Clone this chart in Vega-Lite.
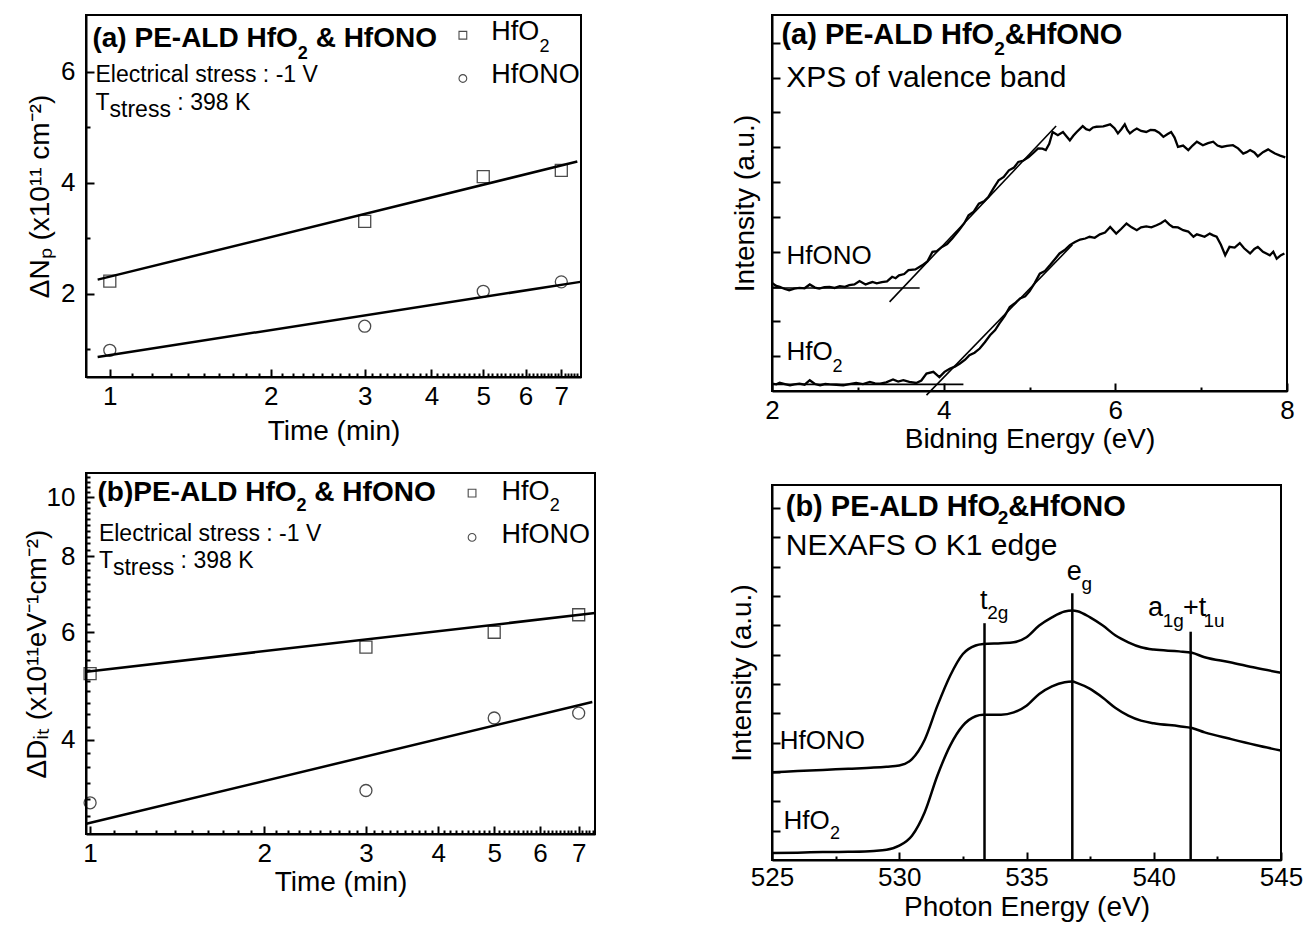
{
  "$schema": "https://vega.github.io/schema/vega-lite/v6.json",
  "background": "white",
  "padding": {"left": 22, "top": 14, "right": 0, "bottom": 0},
  "config": {
    "font": "Liberation Sans",
    "view": {"stroke": "black", "strokeWidth": 2},
    "axis": {"domainColor": "black", "domainWidth": 2, "tickColor": "black", "tickWidth": 2, "labelColor": "black", "titleColor": "black", "labelFont": "Liberation Sans", "titleFont": "Liberation Sans", "labelFontSize": 26, "titleFontSize": 28, "titleFontWeight": "normal", "grid": false, "labelFlush": false, "labelOverlap": false},
    "text": {"font": "Liberation Sans", "color": "black"}
  },
  "hconcat": [
    {
      "vconcat": [
        {
          "width": 495, "height": 362,
          "encoding": {
            "x": {"field": "x", "type": "quantitative", "scale": {"type": "log", "domain": [0.9025, 7.62], "nice": false},
              "axis": {"title": "Time (min)", "values": [1,1.1,1.2,1.3,1.4,1.5,1.6,1.7,1.8,1.9,2,2.1,2.2,2.3,2.4,2.5,2.6,2.7,2.8,2.9,3,3.1,3.2,3.3,3.4,3.5,3.6,3.7,3.8,3.9,4,4.1,4.2,4.3,4.4,4.5,4.6,4.7,4.8,4.9,5,5.1,5.2,5.3,5.4,5.5,5.6,5.7,5.8,5.9,6,6.1,6.2,6.3,6.4,6.5,6.6,6.7,6.8,6.9,7,7.1,7.2,7.3,7.4,7.5],
                "labelExpr": "datum.value == floor(datum.value) ? format(datum.value, 'd') : ''",
                "tickSize": {"condition": {"test": "datum.value == floor(datum.value)", "value": -8}, "value": -4},
                "labelPadding": 14, "titlePadding": 4}},
            "y": {"field": "y", "type": "quantitative", "scale": {"domain": [0.494, 7.024], "nice": false, "zero": false},
              "axis": {"title": "ΔNₚ (x10¹¹ cm⁻²)", "values": [1,2,3,4,5,6],
                "labelExpr": "datum.value % 2 == 0 ? format(datum.value, 'd') : ''",
                "tickSize": {"condition": {"test": "datum.value % 2 == 0", "value": -8}, "value": -4},
                "labelPadding": 19, "titlePadding": 6}}
          },
          "layer": [
            {"data": {"values": [
              {"s": "HfO2", "x": 0.949, "y": 2.25}, {"s": "HfO2", "x": 7.5, "y": 4.38},
              {"s": "HfONO", "x": 0.949, "y": 0.855}, {"s": "HfONO", "x": 7.6, "y": 2.21}]},
             "mark": {"type": "line", "stroke": "black", "strokeWidth": 2.5},
             "encoding": {"detail": {"field": "s"}}},
            {"data": {"values": [
              {"s": "HfO2", "x": 1, "y": 2.223}, {"s": "HfO2", "x": 3, "y": 3.30}, {"s": "HfO2", "x": 5, "y": 4.11}, {"s": "HfO2", "x": 7, "y": 4.22},
              {"s": "HfONO", "x": 1, "y": 0.976}, {"s": "HfONO", "x": 3, "y": 1.41}, {"s": "HfONO", "x": 5, "y": 2.04}, {"s": "HfONO", "x": 7, "y": 2.21}]},
             "mark": {"type": "point", "filled": false, "stroke": "black", "strokeWidth": 1.3, "size": 144},
             "encoding": {"shape": {"field": "s", "type": "nominal", "scale": {"domain": ["HfO2", "HfONO"], "range": ["square", "circle"]}, "legend": null}}},
            {"data": {"values": [{"s": "HfO2", "x": 4.58, "y": 6.659}, {"s": "HfONO", "x": 4.58, "y": 5.879}]},
             "mark": {"type": "point", "filled": false, "stroke": "black", "strokeWidth": 1.1, "size": 60},
             "encoding": {"shape": {"field": "s", "type": "nominal", "scale": {"domain": ["HfO2", "HfONO"], "range": ["square", "circle"]}, "legend": null}}},
            {"data": {"values": [{"x": 0.928, "y": 6.449, "t": "(a) PE-ALD HfO"}, {"x": 2.428, "y": 6.449, "t": "& HfONO"}]},
             "mark": {"type": "text", "align": "left", "baseline": "alphabetic", "fontSize": 28, "fontWeight": "bold"},
             "encoding": {"text": {"field": "t"}}},
            {"data": {"values": [{"x": 2.249, "y": 6.235, "t": "2"}]},
             "mark": {"type": "text", "align": "left", "baseline": "alphabetic", "fontSize": 18, "fontWeight": "bold"},
             "encoding": {"text": {"field": "t"}}},
            {"data": {"values": [{"x": 0.940, "y": 5.818, "t": "Electrical stress : -1 V"}, {"x": 0.940, "y": 5.307, "t": "T"}, {"x": 0.9989, "y": 5.187, "t": "stress"}, {"x": 1.338, "y": 5.307, "t": ": 398 K"}]},
             "mark": {"type": "text", "align": "left", "baseline": "alphabetic", "fontSize": 23},
             "encoding": {"text": {"field": "t"}}},
            {"data": {"values": [{"x": 5.178, "y": 6.569, "t": "HfO"}, {"x": 5.178, "y": 5.789, "t": "HfONO"}]},
             "mark": {"type": "text", "align": "left", "baseline": "alphabetic", "fontSize": 27},
             "encoding": {"text": {"field": "t"}}},
            {"data": {"values": [{"x": 6.375, "y": 6.358, "t": "2"}]},
             "mark": {"type": "text", "align": "left", "baseline": "alphabetic", "fontSize": 18},
             "encoding": {"text": {"field": "t"}}}
          ]
        },
        {
          "width": 509, "height": 361,
          "encoding": {
            "x": {"field": "x", "type": "quantitative", "scale": {"type": "log", "domain": [0.9838, 7.47], "nice": false},
              "axis": {"title": "Time (min)", "values": [1,1.1,1.2,1.3,1.4,1.5,1.6,1.7,1.8,1.9,2,2.1,2.2,2.3,2.4,2.5,2.6,2.7,2.8,2.9,3,3.1,3.2,3.3,3.4,3.5,3.6,3.7,3.8,3.9,4,4.1,4.2,4.3,4.4,4.5,4.6,4.7,4.8,4.9,5,5.1,5.2,5.3,5.4,5.5,5.6,5.7,5.8,5.9,6,6.1,6.2,6.3,6.4,6.5,6.6,6.7,6.8,6.9,7,7.1,7.2,7.3,7.4],
                "labelExpr": "datum.value == floor(datum.value) ? format(datum.value, 'd') : ''",
                "tickSize": {"condition": {"test": "datum.value == floor(datum.value)", "value": -8}, "value": -4},
                "labelPadding": 14, "titlePadding": -2}},
            "y": {"field": "y", "type": "quantitative", "scale": {"type": "log", "domain": [2.8, 10.95], "nice": false},
              "axis": {"title": "ΔDᵢₜ (x10¹¹eV⁻¹cm⁻²)", "values": [3,3.2,3.4,3.6,3.8,4,4.2,4.4,4.6,4.8,5,5.2,5.4,5.6,5.8,6,6.2,6.4,6.6,6.8,7,7.2,7.4,7.6,7.8,8,8.2,8.4,8.6,8.8,9,9.2,9.4,9.6,9.8,10,10.2,10.4,10.6,10.8],
                "labelExpr": "indexof([4,6,8,10], datum.value) >= 0 ? format(datum.value, 'd') : ''",
                "tickSize": {"condition": {"test": "indexof([4,6,8,10], datum.value) >= 0", "value": -8}, "value": -4},
                "labelPadding": 19, "titlePadding": -5}}
          },
          "layer": [
            {"data": {"values": [
              {"s": "HfO2", "x": 0.985, "y": 5.17}, {"s": "HfO2", "x": 7.47, "y": 6.45},
              {"s": "HfONO", "x": 0.985, "y": 2.91}, {"s": "HfONO", "x": 7.39, "y": 4.61}]},
             "mark": {"type": "line", "stroke": "black", "strokeWidth": 2.5},
             "encoding": {"detail": {"field": "s"}}},
            {"data": {"values": [
              {"s": "HfO2", "x": 1, "y": 5.13}, {"s": "HfO2", "x": 3, "y": 5.67}, {"s": "HfO2", "x": 5, "y": 6.0}, {"s": "HfO2", "x": 7, "y": 6.41},
              {"s": "HfONO", "x": 1, "y": 3.15}, {"s": "HfONO", "x": 3, "y": 3.30}, {"s": "HfONO", "x": 5, "y": 4.34}, {"s": "HfONO", "x": 7, "y": 4.42}]},
             "mark": {"type": "point", "filled": false, "stroke": "black", "strokeWidth": 1.3, "size": 144},
             "encoding": {"shape": {"field": "s", "type": "nominal", "scale": {"domain": ["HfO2", "HfONO"], "range": ["square", "circle"]}, "legend": null}}},
            {"data": {"values": [{"s": "HfO2", "x": 4.578, "y": 10.15}, {"s": "HfONO", "x": 4.578, "y": 8.585}]},
             "mark": {"type": "point", "filled": false, "stroke": "black", "strokeWidth": 1.1, "size": 60},
             "encoding": {"shape": {"field": "s", "type": "nominal", "scale": {"domain": ["HfO2", "HfONO"], "range": ["square", "circle"]}, "legend": null}}},
            {"data": {"values": [{"x": 1.0299, "y": 9.835, "t": "(b)PE-ALD HfO"}, {"x": 2.443, "y": 9.835, "t": "& HfONO"}]},
             "mark": {"type": "text", "align": "left", "baseline": "alphabetic", "fontSize": 28, "fontWeight": "bold"},
             "encoding": {"text": {"field": "t"}}},
            {"data": {"values": [{"x": 2.276, "y": 9.471, "t": "2"}]},
             "mark": {"type": "text", "align": "left", "baseline": "alphabetic", "fontSize": 18, "fontWeight": "bold"},
             "encoding": {"text": {"field": "t"}}},
            {"data": {"values": [{"x": 1.0357, "y": 8.457, "t": "Electrical stress : -1 V"}, {"x": 1.0357, "y": 7.649, "t": "T"}, {"x": 1.0953, "y": 7.458, "t": "stress"}, {"x": 1.434, "y": 7.649, "t": ": 398 K"}]},
             "mark": {"type": "text", "align": "left", "baseline": "alphabetic", "fontSize": 23},
             "encoding": {"text": {"field": "t"}}},
            {"data": {"values": [{"x": 5.150, "y": 9.899, "t": "HfO"}, {"x": 5.150, "y": 8.406, "t": "HfONO"}]},
             "mark": {"type": "text", "align": "left", "baseline": "alphabetic", "fontSize": 27},
             "encoding": {"text": {"field": "t"}}},
            {"data": {"values": [{"x": 6.235, "y": 9.471, "t": "2"}]},
             "mark": {"type": "text", "align": "left", "baseline": "alphabetic", "fontSize": 18},
             "encoding": {"text": {"field": "t"}}}
          ]
        }
      ],
      "spacing": 16
    },
    {
      "vconcat": [
        {
          "width": 515, "height": 376,
          "encoding": {
            "x": {"field": "x", "type": "quantitative", "scale": {"domain": [2, 8], "nice": false, "zero": false},
              "axis": {"title": "Bidning Energy (eV)", "values": [2,3,4,5,6,7,8],
                "labelExpr": "datum.value % 2 == 0 ? format(datum.value, 'd') : ''",
                "tickSize": {"condition": {"test": "datum.value % 2 == 0", "value": -8}, "value": -4},
                "labelPadding": 14, "titlePadding": -2}},
            "y": {"field": "y", "type": "quantitative", "scale": {"domain": [0, 10.8], "nice": false, "zero": false},
              "axis": {"title": "Intensity (a.u.)", "values": [1,2,3,4,5,6,7,8,9,10], "labels": false, "tickSize": -8, "titlePadding": 12}}
          },
          "layer": [
            {"data": {"values": [
              {"s":"HfONO","x":2.00,"y":3.10},{"s":"HfONO","x":2.05,"y":3.02},{"s":"HfONO","x":2.09,"y":2.99},{"s":"HfONO","x":2.15,"y":2.93},{"s":"HfONO","x":2.20,"y":2.89},{"s":"HfONO","x":2.26,"y":2.94},{"s":"HfONO","x":2.32,"y":2.96},{"s":"HfONO","x":2.38,"y":2.95},{"s":"HfONO","x":2.44,"y":3.06},{"s":"HfONO","x":2.50,"y":2.97},{"s":"HfONO","x":2.55,"y":2.94},{"s":"HfONO","x":2.61,"y":2.98},{"s":"HfONO","x":2.67,"y":2.99},{"s":"HfONO","x":2.73,"y":2.96},{"s":"HfONO","x":2.79,"y":3.01},{"s":"HfONO","x":2.85,"y":2.99},{"s":"HfONO","x":2.90,"y":3.04},{"s":"HfONO","x":2.96,"y":3.06},{"s":"HfONO","x":3.02,"y":3.16},{"s":"HfONO","x":3.09,"y":3.06},{"s":"HfONO","x":3.13,"y":3.10},{"s":"HfONO","x":3.17,"y":3.13},{"s":"HfONO","x":3.22,"y":3.09},{"s":"HfONO","x":3.28,"y":3.13},{"s":"HfONO","x":3.34,"y":3.15},{"s":"HfONO","x":3.40,"y":3.28},{"s":"HfONO","x":3.44,"y":3.24},{"s":"HfONO","x":3.48,"y":3.32},{"s":"HfONO","x":3.54,"y":3.36},{"s":"HfONO","x":3.59,"y":3.47},{"s":"HfONO","x":3.67,"y":3.49},{"s":"HfONO","x":3.75,"y":3.61},{"s":"HfONO","x":3.81,"y":3.72},{"s":"HfONO","x":3.87,"y":4.00},{"s":"HfONO","x":3.92,"y":4.02},{"s":"HfONO","x":3.98,"y":4.14},{"s":"HfONO","x":4.04,"y":4.22},{"s":"HfONO","x":4.10,"y":4.38},{"s":"HfONO","x":4.18,"y":4.62},{"s":"HfONO","x":4.24,"y":4.82},{"s":"HfONO","x":4.29,"y":5.05},{"s":"HfONO","x":4.35,"y":5.15},{"s":"HfONO","x":4.41,"y":5.38},{"s":"HfONO","x":4.47,"y":5.45},{"s":"HfONO","x":4.52,"y":5.57},{"s":"HfONO","x":4.58,"y":5.82},{"s":"HfONO","x":4.64,"y":6.05},{"s":"HfONO","x":4.70,"y":6.15},{"s":"HfONO","x":4.76,"y":6.34},{"s":"HfONO","x":4.82,"y":6.42},{"s":"HfONO","x":4.87,"y":6.58},{"s":"HfONO","x":4.93,"y":6.62},{"s":"HfONO","x":4.99,"y":6.72},{"s":"HfONO","x":5.05,"y":6.85},{"s":"HfONO","x":5.10,"y":6.97},{"s":"HfONO","x":5.15,"y":6.96},{"s":"HfONO","x":5.19,"y":6.92},{"s":"HfONO","x":5.23,"y":7.10},{"s":"HfONO","x":5.27,"y":7.44},{"s":"HfONO","x":5.33,"y":7.35},{"s":"HfONO","x":5.39,"y":7.44},{"s":"HfONO","x":5.43,"y":7.32},{"s":"HfONO","x":5.47,"y":7.20},{"s":"HfONO","x":5.51,"y":7.33},{"s":"HfONO","x":5.55,"y":7.44},{"s":"HfONO","x":5.62,"y":7.61},{"s":"HfONO","x":5.66,"y":7.52},{"s":"HfONO","x":5.70,"y":7.49},{"s":"HfONO","x":5.74,"y":7.57},{"s":"HfONO","x":5.78,"y":7.59},{"s":"HfONO","x":5.86,"y":7.60},{"s":"HfONO","x":5.94,"y":7.66},{"s":"HfONO","x":5.99,"y":7.55},{"s":"HfONO","x":6.03,"y":7.40},{"s":"HfONO","x":6.07,"y":7.52},{"s":"HfONO","x":6.11,"y":7.66},{"s":"HfONO","x":6.14,"y":7.50},{"s":"HfONO","x":6.17,"y":7.40},{"s":"HfONO","x":6.21,"y":7.48},{"s":"HfONO","x":6.25,"y":7.54},{"s":"HfONO","x":6.30,"y":7.47},{"s":"HfONO","x":6.36,"y":7.44},{"s":"HfONO","x":6.41,"y":7.50},{"s":"HfONO","x":6.46,"y":7.49},{"s":"HfONO","x":6.51,"y":7.42},{"s":"HfONO","x":6.56,"y":7.30},{"s":"HfONO","x":6.61,"y":7.38},{"s":"HfONO","x":6.65,"y":7.44},{"s":"HfONO","x":6.69,"y":7.28},{"s":"HfONO","x":6.73,"y":7.01},{"s":"HfONO","x":6.79,"y":7.05},{"s":"HfONO","x":6.85,"y":6.92},{"s":"HfONO","x":6.90,"y":7.05},{"s":"HfONO","x":6.95,"y":7.16},{"s":"HfONO","x":7.02,"y":7.06},{"s":"HfONO","x":7.08,"y":7.12},{"s":"HfONO","x":7.14,"y":7.16},{"s":"HfONO","x":7.19,"y":7.05},{"s":"HfONO","x":7.24,"y":7.01},{"s":"HfONO","x":7.30,"y":7.04},{"s":"HfONO","x":7.37,"y":7.06},{"s":"HfONO","x":7.43,"y":6.97},{"s":"HfONO","x":7.49,"y":6.82},{"s":"HfONO","x":7.53,"y":6.86},{"s":"HfONO","x":7.57,"y":6.92},{"s":"HfONO","x":7.62,"y":6.85},{"s":"HfONO","x":7.66,"y":6.74},{"s":"HfONO","x":7.72,"y":6.86},{"s":"HfONO","x":7.78,"y":6.94},{"s":"HfONO","x":7.82,"y":6.88},{"s":"HfONO","x":7.86,"y":6.82},{"s":"HfONO","x":7.92,"y":6.76},{"s":"HfONO","x":7.98,"y":6.71},
              {"s":"HfO2","x":2.00,"y":0.21},{"s":"HfO2","x":2.05,"y":0.19},{"s":"HfO2","x":2.09,"y":0.24},{"s":"HfO2","x":2.15,"y":0.20},{"s":"HfO2","x":2.21,"y":0.16},{"s":"HfO2","x":2.26,"y":0.19},{"s":"HfO2","x":2.32,"y":0.21},{"s":"HfO2","x":2.38,"y":0.18},{"s":"HfO2","x":2.44,"y":0.31},{"s":"HfO2","x":2.50,"y":0.20},{"s":"HfO2","x":2.56,"y":0.16},{"s":"HfO2","x":2.62,"y":0.20},{"s":"HfO2","x":2.67,"y":0.19},{"s":"HfO2","x":2.75,"y":0.18},{"s":"HfO2","x":2.83,"y":0.16},{"s":"HfO2","x":2.90,"y":0.20},{"s":"HfO2","x":2.98,"y":0.23},{"s":"HfO2","x":3.06,"y":0.20},{"s":"HfO2","x":3.14,"y":0.26},{"s":"HfO2","x":3.20,"y":0.22},{"s":"HfO2","x":3.26,"y":0.21},{"s":"HfO2","x":3.33,"y":0.25},{"s":"HfO2","x":3.41,"y":0.33},{"s":"HfO2","x":3.47,"y":0.27},{"s":"HfO2","x":3.53,"y":0.31},{"s":"HfO2","x":3.60,"y":0.26},{"s":"HfO2","x":3.68,"y":0.23},{"s":"HfO2","x":3.74,"y":0.30},{"s":"HfO2","x":3.80,"y":0.50},{"s":"HfO2","x":3.88,"y":0.55},{"s":"HfO2","x":3.95,"y":0.40},{"s":"HfO2","x":4.01,"y":0.55},{"s":"HfO2","x":4.07,"y":0.64},{"s":"HfO2","x":4.13,"y":0.70},{"s":"HfO2","x":4.19,"y":0.79},{"s":"HfO2","x":4.25,"y":0.90},{"s":"HfO2","x":4.30,"y":1.03},{"s":"HfO2","x":4.36,"y":1.10},{"s":"HfO2","x":4.42,"y":1.22},{"s":"HfO2","x":4.48,"y":1.40},{"s":"HfO2","x":4.54,"y":1.60},{"s":"HfO2","x":4.60,"y":1.75},{"s":"HfO2","x":4.65,"y":1.94},{"s":"HfO2","x":4.71,"y":2.15},{"s":"HfO2","x":4.77,"y":2.41},{"s":"HfO2","x":4.83,"y":2.52},{"s":"HfO2","x":4.89,"y":2.66},{"s":"HfO2","x":4.95,"y":2.72},{"s":"HfO2","x":5.00,"y":2.86},{"s":"HfO2","x":5.06,"y":3.10},{"s":"HfO2","x":5.12,"y":3.37},{"s":"HfO2","x":5.18,"y":3.45},{"s":"HfO2","x":5.24,"y":3.62},{"s":"HfO2","x":5.30,"y":3.80},{"s":"HfO2","x":5.35,"y":3.95},{"s":"HfO2","x":5.41,"y":4.05},{"s":"HfO2","x":5.47,"y":4.19},{"s":"HfO2","x":5.53,"y":4.28},{"s":"HfO2","x":5.59,"y":4.35},{"s":"HfO2","x":5.65,"y":4.38},{"s":"HfO2","x":5.70,"y":4.43},{"s":"HfO2","x":5.76,"y":4.40},{"s":"HfO2","x":5.82,"y":4.50},{"s":"HfO2","x":5.88,"y":4.55},{"s":"HfO2","x":5.94,"y":4.71},{"s":"HfO2","x":6.01,"y":4.52},{"s":"HfO2","x":6.07,"y":4.66},{"s":"HfO2","x":6.13,"y":4.81},{"s":"HfO2","x":6.19,"y":4.70},{"s":"HfO2","x":6.25,"y":4.62},{"s":"HfO2","x":6.30,"y":4.70},{"s":"HfO2","x":6.36,"y":4.73},{"s":"HfO2","x":6.42,"y":4.70},{"s":"HfO2","x":6.48,"y":4.76},{"s":"HfO2","x":6.53,"y":4.82},{"s":"HfO2","x":6.58,"y":4.90},{"s":"HfO2","x":6.63,"y":4.78},{"s":"HfO2","x":6.67,"y":4.71},{"s":"HfO2","x":6.73,"y":4.70},{"s":"HfO2","x":6.79,"y":4.62},{"s":"HfO2","x":6.85,"y":4.58},{"s":"HfO2","x":6.91,"y":4.43},{"s":"HfO2","x":6.95,"y":4.50},{"s":"HfO2","x":6.99,"y":4.47},{"s":"HfO2","x":7.04,"y":4.43},{"s":"HfO2","x":7.10,"y":4.52},{"s":"HfO2","x":7.14,"y":4.47},{"s":"HfO2","x":7.18,"y":4.43},{"s":"HfO2","x":7.23,"y":4.20},{"s":"HfO2","x":7.28,"y":3.90},{"s":"HfO2","x":7.33,"y":4.14},{"s":"HfO2","x":7.39,"y":4.12},{"s":"HfO2","x":7.45,"y":4.25},{"s":"HfO2","x":7.50,"y":4.10},{"s":"HfO2","x":7.57,"y":3.95},{"s":"HfO2","x":7.62,"y":4.08},{"s":"HfO2","x":7.66,"y":4.14},{"s":"HfO2","x":7.72,"y":4.00},{"s":"HfO2","x":7.80,"y":3.90},{"s":"HfO2","x":7.84,"y":4.00},{"s":"HfO2","x":7.88,"y":3.80},{"s":"HfO2","x":7.93,"y":3.90},{"s":"HfO2","x":7.97,"y":3.95}]},
             "mark": {"type": "line", "stroke": "black", "strokeWidth": 2.3},
             "encoding": {"detail": {"field": "s"}}},
            {"data": {"values": [
              {"s": "a", "x": 3.37, "y": 2.56}, {"s": "a", "x": 5.31, "y": 7.61},
              {"s": "b", "x": 2.0, "y": 2.96}, {"s": "b", "x": 3.72, "y": 2.96},
              {"s": "c", "x": 3.80, "y": -0.12}, {"s": "c", "x": 5.50, "y": 4.20},
              {"s": "d", "x": 2.0, "y": 0.19}, {"s": "d", "x": 4.23, "y": 0.19}]},
             "mark": {"type": "line", "stroke": "black", "strokeWidth": 1.6, "clip": false},
             "encoding": {"detail": {"field": "s"}}},
            {"data": {"values": [{"x": 2.11, "y": 9.98, "t": "(a) PE-ALD HfO"}, {"x": 4.712, "y": 9.98, "t": "&HfONO"}]},
             "mark": {"type": "text", "align": "left", "baseline": "alphabetic", "fontSize": 29, "fontWeight": "bold"},
             "encoding": {"text": {"field": "t"}}},
            {"data": {"values": [{"x": 4.589, "y": 9.65, "t": "2"}]},
             "mark": {"type": "text", "align": "left", "baseline": "alphabetic", "fontSize": 19, "fontWeight": "bold"},
             "encoding": {"text": {"field": "t"}}},
            {"data": {"values": [{"x": 2.166, "y": 8.736, "t": "XPS of valence band"}]},
             "mark": {"type": "text", "align": "left", "baseline": "alphabetic", "fontSize": 30},
             "encoding": {"text": {"field": "t"}}},
            {"data": {"values": [{"x": 2.168, "y": 3.66, "t": "HfONO"}, {"x": 2.168, "y": 0.90, "t": "HfO"}]},
             "mark": {"type": "text", "align": "left", "baseline": "alphabetic", "fontSize": 26},
             "encoding": {"text": {"field": "t"}}},
            {"data": {"values": [{"x": 2.706, "y": 0.546, "t": "2"}]},
             "mark": {"type": "text", "align": "left", "baseline": "alphabetic", "fontSize": 18},
             "encoding": {"text": {"field": "t"}}}
          ]
        },
        {
          "width": 509, "height": 375,
          "encoding": {
            "x": {"field": "x", "type": "quantitative", "scale": {"domain": [525, 545], "nice": false, "zero": false},
              "axis": {"title": "Photon Energy (eV)", "values": [525,527.5,530,532.5,535,537.5,540,542.5,545],
                "labelExpr": "datum.value % 5 == 0 ? format(datum.value, 'd') : ''",
                "tickSize": {"condition": {"test": "datum.value % 5 == 0", "value": -8}, "value": -4},
                "labelPadding": 12, "titlePadding": -1}},
            "y": {"field": "y", "type": "quantitative", "scale": {"domain": [0, 12.78], "nice": false, "zero": false},
              "axis": {"title": "Intensity (a.u.)", "values": [1,2,3,4,5,6,7,8,9,10,11,12], "labels": false, "tickSize": -8, "titlePadding": 15}}
          },
          "layer": [
            {"data": {"values": [
              {"s":"HfONO","x":525,"y":2.99},{"s":"HfONO","x":526,"y":3.03},{"s":"HfONO","x":527,"y":3.07},{"s":"HfONO","x":528,"y":3.11},{"s":"HfONO","x":529,"y":3.15},{"s":"HfONO","x":529.5,"y":3.18},{"s":"HfONO","x":530,"y":3.22},{"s":"HfONO","x":530.5,"y":3.44},{"s":"HfONO","x":531,"y":4.10},{"s":"HfONO","x":531.5,"y":5.26},{"s":"HfONO","x":532,"y":6.28},{"s":"HfONO","x":532.5,"y":7.02},{"s":"HfONO","x":533,"y":7.31},{"s":"HfONO","x":533.3,"y":7.36},{"s":"HfONO","x":534,"y":7.39},{"s":"HfONO","x":534.5,"y":7.42},{"s":"HfONO","x":535,"y":7.59},{"s":"HfONO","x":535.5,"y":7.99},{"s":"HfONO","x":536,"y":8.27},{"s":"HfONO","x":536.5,"y":8.47},{"s":"HfONO","x":536.8,"y":8.50},{"s":"HfONO","x":537,"y":8.48},{"s":"HfONO","x":537.5,"y":8.27},{"s":"HfONO","x":538,"y":7.99},{"s":"HfONO","x":538.5,"y":7.65},{"s":"HfONO","x":539,"y":7.42},{"s":"HfONO","x":539.5,"y":7.25},{"s":"HfONO","x":540,"y":7.17},{"s":"HfONO","x":541,"y":7.11},{"s":"HfONO","x":541.5,"y":7.06},{"s":"HfONO","x":542,"y":6.91},{"s":"HfONO","x":543,"y":6.74},{"s":"HfONO","x":544,"y":6.55},{"s":"HfONO","x":545,"y":6.38},
              {"s":"HfO2","x":525,"y":0.24},{"s":"HfO2","x":526,"y":0.25},{"s":"HfO2","x":527,"y":0.27},{"s":"HfO2","x":528,"y":0.28},{"s":"HfO2","x":529,"y":0.31},{"s":"HfO2","x":529.5,"y":0.35},{"s":"HfO2","x":530,"y":0.49},{"s":"HfO2","x":530.5,"y":0.83},{"s":"HfO2","x":531,"y":1.63},{"s":"HfO2","x":531.5,"y":2.88},{"s":"HfO2","x":532,"y":3.90},{"s":"HfO2","x":532.5,"y":4.58},{"s":"HfO2","x":533,"y":4.90},{"s":"HfO2","x":533.3,"y":4.95},{"s":"HfO2","x":534,"y":4.95},{"s":"HfO2","x":534.5,"y":5.03},{"s":"HfO2","x":535,"y":5.26},{"s":"HfO2","x":535.5,"y":5.66},{"s":"HfO2","x":536,"y":5.92},{"s":"HfO2","x":536.5,"y":6.06},{"s":"HfO2","x":536.8,"y":6.08},{"s":"HfO2","x":537,"y":6.03},{"s":"HfO2","x":537.5,"y":5.83},{"s":"HfO2","x":538,"y":5.53},{"s":"HfO2","x":538.5,"y":5.18},{"s":"HfO2","x":539,"y":4.92},{"s":"HfO2","x":539.5,"y":4.75},{"s":"HfO2","x":540,"y":4.66},{"s":"HfO2","x":541,"y":4.56},{"s":"HfO2","x":541.5,"y":4.50},{"s":"HfO2","x":542,"y":4.35},{"s":"HfO2","x":543,"y":4.13},{"s":"HfO2","x":544,"y":3.92},{"s":"HfO2","x":545,"y":3.73}]},
             "mark": {"type": "line", "stroke": "black", "strokeWidth": 2.5, "interpolate": "monotone"},
             "encoding": {"detail": {"field": "s"}}},
            {"data": {"values": [
              {"s": "t2g", "x": 533.35, "y": 0}, {"s": "t2g", "x": 533.35, "y": 8.07},
              {"s": "eg", "x": 536.8, "y": 0}, {"s": "eg", "x": 536.8, "y": 9.09},
              {"s": "a1g", "x": 541.45, "y": 0}, {"s": "a1g", "x": 541.45, "y": 7.78}]},
             "mark": {"type": "line", "stroke": "black", "strokeWidth": 2.5},
             "encoding": {"detail": {"field": "s"}, "order": {"field": "y"}}},
            {"data": {"values": [{"x": 525.54, "y": 11.74, "t": "(b) PE-ALD HfO"}, {"x": 534.28, "y": 11.74, "t": "&HfONO"}]},
             "mark": {"type": "text", "align": "left", "baseline": "alphabetic", "fontSize": 29, "fontWeight": "bold"},
             "encoding": {"text": {"field": "t"}}},
            {"data": {"values": [{"x": 533.87, "y": 11.45, "t": "2"}]},
             "mark": {"type": "text", "align": "left", "baseline": "alphabetic", "fontSize": 19, "fontWeight": "bold"},
             "encoding": {"text": {"field": "t"}}},
            {"data": {"values": [{"x": 525.54, "y": 10.38, "t": "NEXAFS O K1 edge"}]},
             "mark": {"type": "text", "align": "left", "baseline": "alphabetic", "fontSize": 30},
             "encoding": {"text": {"field": "t"}}},
            {"data": {"values": [{"x": 525.3, "y": 3.78, "t": "HfONO"}, {"x": 525.45, "y": 1.057, "t": "HfO"}]},
             "mark": {"type": "text", "align": "left", "baseline": "alphabetic", "fontSize": 26},
             "encoding": {"text": {"field": "t"}}},
            {"data": {"values": [{"x": 527.28, "y": 0.716, "t": "2"}]},
             "mark": {"type": "text", "align": "left", "baseline": "alphabetic", "fontSize": 18},
             "encoding": {"text": {"field": "t"}}},
            {"data": {"values": [{"x": 533.17, "y": 8.56, "t": "t"}, {"x": 536.58, "y": 9.53, "t": "e"}, {"x": 539.77, "y": 8.33, "t": "a"}, {"x": 541.15, "y": 8.33, "t": "+t"}]},
             "mark": {"type": "text", "align": "left", "baseline": "alphabetic", "fontSize": 27},
             "encoding": {"text": {"field": "t"}}},
            {"data": {"values": [{"x": 533.46, "y": 8.22, "t": "2g"}, {"x": 537.16, "y": 9.20, "t": "g"}, {"x": 540.35, "y": 7.93, "t": "1g"}, {"x": 541.95, "y": 7.93, "t": "1u"}]},
             "mark": {"type": "text", "align": "left", "baseline": "alphabetic", "fontSize": 19},
             "encoding": {"text": {"field": "t"}}}
          ]
        }
      ],
      "spacing": 30
    }
  ],
  "spacing": 126
}
